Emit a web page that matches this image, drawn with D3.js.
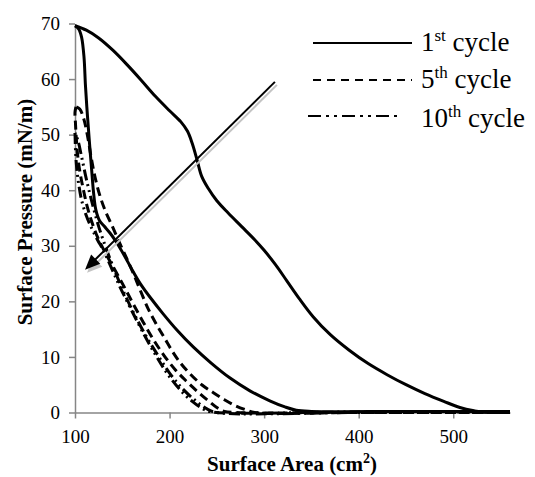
<!DOCTYPE html>
<html>
<head>
<meta charset="utf-8">
<script src="https://cdn.jsdelivr.net/npm/d3@7"></script>
<style>
  html, body { margin: 0; padding: 0; background: #fff; }
  svg { display: block; }
</style>
</head>
<body>
<svg id="chart" width="535" height="477"></svg>
<script>
// Surface pressure–area isotherms for the 1st, 5th and 10th compression/expansion cycles

const xTicks = [100, 200, 300, 400, 500];
const yTicks = [0, 10, 20, 30, 40, 50, 60, 70];

// 1st cycle
const c1CompArea = [560, 530, 522, 507, 490, 470, 450, 430, 410, 390, 370, 352, 338, 324, 312, 300, 290, 276, 262, 250, 241, 234, 229, 224, 219, 212, 200, 185, 170, 155, 140, 125, 112, 100];
const c1CompPressure = [0, 0.1, 0.3, 0.9, 2, 3.4, 5, 6.8, 8.8, 11.2, 14, 17.2, 20.3, 23.7, 26.6, 29.2, 31.1, 33.5, 35.9, 38.1, 40.3, 42.5, 45.5, 48.4, 50.6, 52.3, 54.3, 56.9, 59.8, 62.6, 65.2, 67.4, 68.8, 69.6];
const c1ExpArea = [100, 104, 107, 109.5, 111, 112.5, 114, 116, 117.6, 119.5, 122, 126, 131, 137, 144, 152, 160, 169, 180, 193, 208, 225, 244, 264, 285, 306, 322, 334, 350, 450, 560];
const c1ExpPressure = [69.6, 69, 67.5, 64, 59, 55, 51.5, 47, 43.7, 39.8, 36.5, 34.5, 33.5, 32.3, 30.6, 28.3, 25.8, 23.2, 20.6, 17.8, 14.8, 11.8, 8.9, 6.2, 3.9, 2.1, 1, 0.4, 0.2, 0.2, 0.2];

// 5th cycle
const c5CompArea = [560, 400, 290, 282, 270, 258, 246, 234, 222, 212, 203, 195, 185, 177, 169, 162, 155, 148, 140, 132, 126, 121, 117, 113, 109, 105, 101];
const c5CompPressure = [0, 0, 0, 0.4, 1.2, 2.3, 3.6, 5, 6.9, 8.8, 11, 13.3, 16.2, 18.8, 22, 24.9, 27.6, 30.2, 33.3, 36.3, 39.2, 42.5, 46, 50, 53, 54.6, 55];
const c5ExpArea = [101, 100, 100.5, 101.5, 103, 105.5, 109, 113, 118, 124, 130, 137, 145, 153, 162, 172, 183, 194, 206, 218, 230, 241, 250, 258, 268, 400, 560];
const c5ExpPressure = [55, 54, 52, 49, 46, 43, 40, 37, 34.2, 31.5, 29.4, 27.2, 24.8, 22.3, 19.4, 16.3, 13.1, 10.3, 7.7, 5.6, 3.7, 2.1, 0.9, 0.2, 0, 0, 0];

// 10th cycle
const c10CompArea = [560, 400, 250, 240, 227, 213, 200, 188, 175, 163, 152, 142, 133, 125, 118, 112, 107, 103, 100];
const c10CompPressure = [0, 0, 0, 0.6, 2.2, 4.4, 7.1, 10.2, 13.8, 17.6, 21.5, 25.5, 29.5, 33.5, 37.8, 42, 46, 49, 50.3];
const c10ExpArea = [100, 100.6, 101.8, 104, 107, 112, 118, 124, 130, 137, 147, 158, 170, 183, 196, 210, 224, 236, 245, 400, 560];
const c10ExpPressure = [50.3, 47, 44, 41, 38.2, 35.4, 33, 31, 29.2, 26.6, 22.8, 19, 15, 11, 7.4, 4.3, 2, 0.6, 0.1, 0.1, 0.1];

// arrow annotation (data units): tail, then head
const arrowArea = [311.4, 110.6];
const arrowPressure = [59.5, 25.7];

const seriesNames = ["1st cycle", "5th cycle", "10th cycle"];
const seriesOrdinal = [["1", "st"], ["5", "th"], ["10", "th"]];

const serif = "'Liberation Serif', 'Times New Roman', serif";
const svg = d3.select("#chart");
const x = d3.scaleLinear().domain([100, 560]).range([75, 510]);
const y = d3.scaleLinear().domain([0, 70]).range([412.5, 23.5]);

const axisColor = "#868686";

// axes
const xAxis = svg.append("g").attr("transform", `translate(0,${y(0)})`)
  .call(d3.axisBottom(x).tickValues(xTicks).tickSize(6).tickSizeOuter(0).tickPadding(11));
const yAxis = svg.append("g").attr("transform", `translate(${x(100)},0)`)
  .call(d3.axisLeft(y).tickValues(yTicks).tickSize(6).tickSizeOuter(0).tickPadding(9));
[xAxis, yAxis].forEach(g => {
  g.attr("font-family", serif).attr("font-size", 19);
  g.select(".domain").attr("stroke", axisColor).attr("stroke-width", 1.5);
  g.selectAll(".tick line").attr("stroke", axisColor).attr("stroke-width", 1.5);
  g.selectAll(".tick text").attr("fill", "#000");
});

// curves: each cycle is drawn as its compression and expansion branches
const line = d3.line()
  .x(d => x(d[0])).y(d => y(d[1]))
  .curve(d3.curveCatmullRom.alpha(0.5));
const zip = (a, p) => a.map((v, i) => [v, p[i]]);

const dashes = [null, "9,5", "11,4,2,4,2,4"];
const branches = [
  { cycle: 0, pts: zip(c1CompArea, c1CompPressure) },
  { cycle: 0, pts: zip(c1ExpArea, c1ExpPressure) },
  { cycle: 1, pts: zip(c5CompArea, c5CompPressure) },
  { cycle: 1, pts: zip(c5ExpArea, c5ExpPressure) },
  { cycle: 2, pts: zip(c10CompArea, c10CompPressure) },
  { cycle: 2, pts: zip(c10ExpArea, c10ExpPressure) }
];

svg.append("g").selectAll("path")
  .data(branches)
  .join("path")
  .attr("d", d => line(d.pts))
  .attr("fill", "none")
  .attr("stroke", "#000")
  .attr("stroke-width", 3)
  .attr("stroke-linejoin", "round")
  .attr("stroke-dasharray", d => dashes[d.cycle]);

// arrow with a soft grey drop shadow
const ax0 = x(arrowArea[0]), ay0 = y(arrowPressure[0]);
const ax1 = x(arrowArea[1]), ay1 = y(arrowPressure[1]);
const ang = Math.atan2(ay1 - ay0, ax1 - ax0);
const headLen = 15, headHalf = 6.5;
const bx = ax1 - headLen * Math.cos(ang), by = ay1 - headLen * Math.sin(ang);
const head = [
  [ax1, ay1],
  [bx + headHalf * Math.sin(ang), by - headHalf * Math.cos(ang)],
  [bx - headHalf * Math.sin(ang), by + headHalf * Math.cos(ang)]
];
function drawArrow(g, color) {
  g.append("line").attr("x1", ax0).attr("y1", ay0)
    .attr("x2", bx + 2 * Math.cos(ang)).attr("y2", by + 2 * Math.sin(ang))
    .attr("stroke", color).attr("stroke-width", 2);
  g.append("path").attr("d", "M" + head.map(p => p.join(",")).join("L") + "Z").attr("fill", color);
}
drawArrow(svg.append("g").attr("transform", "translate(2,3)"), "#c4c4c4");
drawArrow(svg.append("g"), "#000");

// legend
const legend = svg.append("g");
const legendRows = [
  { y: 43, x0: 313, x1: 412, dash: null },
  { y: 80, x0: 313, x1: 412, dash: "8,6" },
  { y: 116, x0: 308, x1: 400, dash: "13,5,3,5,3,5" }
];
legendRows.forEach((r, i) => {
  legend.append("line")
    .attr("x1", r.x0).attr("x2", r.x1).attr("y1", r.y).attr("y2", r.y)
    .attr("stroke", "#000").attr("stroke-width", 2)
    .attr("stroke-dasharray", r.dash);
  const t = legend.append("text")
    .attr("x", 421).attr("y", r.y + 8 + (i === 2 ? 3 : 0))
    .style("font-family", serif)
    .style("font-size", "27px");
  t.append("tspan").text(seriesOrdinal[i][0]);
  t.append("tspan").attr("dy", -10).style("font-size", "17px").text(seriesOrdinal[i][1]);
  t.append("tspan").attr("dy", 10).text(" " + seriesNames[i].split(" ")[1]);
});

// axis titles
const xt = svg.append("text")
  .attr("x", 292).attr("y", 471).attr("text-anchor", "middle")
  .style("font-family", serif)
  .style("font-size", "21px").style("font-weight", "bold");
xt.append("tspan").text("Surface Area (cm");
xt.append("tspan").attr("dy", -8).style("font-size", "14px").text("2");
xt.append("tspan").attr("dy", 8).text(")");

svg.append("text")
  .attr("transform", "translate(32,212) rotate(-90)")
  .attr("text-anchor", "middle")
  .style("font-family", serif)
  .style("font-size", "21px").style("font-weight", "bold")
  .text("Surface Pressure (mN/m)");
</script>
</body>
</html>
